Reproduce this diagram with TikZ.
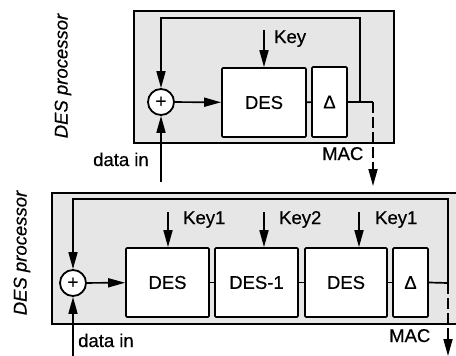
\documentclass[tikz,border=0pt]{standalone}
\usepackage{fontspec}
\setmainfont{Liberation Sans}[FakeBold=0.5]
\usetikzlibrary{arrows.meta,positioning}
\definecolor{stipple}{RGB}{230,230,230}

\begin{document}
\begin{tikzpicture}[x=1pt, y=-1pt,
    every node/.style={font=\fontsize{18.5}{22}\selectfont},
    frame/.style={draw, line width=2pt, fill=stipple},
    block/.style={rectangle, draw, line width=1.7pt, fill=white, rounded corners=1pt, inner sep=0pt},
    xorgate/.style={circle, draw, line width=1.8pt, fill=white, minimum size=26pt, inner sep=0pt},
    lbl/.style={anchor=base west, inner sep=0pt},
    side/.style={rotate=90, font=\fontsize{18.5}{22}\selectfont\itshape},
    arrow/.style={-{Triangle[length=17pt,width=9pt]}, line width=1.7pt},
    wire/.style={line width=1.7pt},
    macline/.style={-{Triangle[length=17pt,width=9pt]}, line width=1.7pt, dash pattern=on 11pt off 4pt}
]
\clip (0,0) rectangle (456,356);

% upper processor: single DES
\draw[frame] (134,11) rectangle (394,143);
\node[side] (proca) at (63,76) {DES processor};

\node[xorgate] (xora) at (161,102) {+};
\node[block, minimum width=84pt, minimum height=69pt] (desa) at (264,102.5) {DES};
\node[block, minimum width=35pt, minimum height=70pt] (deltaa) at (329.5,102) {Δ};

\coordinate (keyatop) at (264,30);
\coordinate (tapa) at (360,102);
\coordinate (loopa) at (161,18);
\coordinate (outa) at (373,102);
\coordinate (enda) at (373,186);
\coordinate (ina) at (161,182);

\draw[arrow] (xora) -- (desa);
\draw[wire] (desa) -- (deltaa);
\draw[arrow] (keyatop) -- (desa.north);
\draw[wire] (deltaa.east) -- (outa);
\draw[arrow] (tapa) |- (loopa) -- (xora.north);
\draw[macline] (outa) -- (enda);
\draw[arrow] (ina) -- (xora.south);

\node[lbl] (keya) at (274,43) {Key};
\node[lbl] (dataa) at (93,166) {data in};
\node[lbl] (maca) at (322,160) {MAC};

% lower processor: triple DES
\draw[frame] (52,193) rectangle (475,324);
\node[side] (procb) at (22,253) {DES processor};

\node[xorgate] (xorb) at (73,283) {+};
\node[block, minimum width=83pt, minimum height=69pt] (desb) at (167.5,282.5) {DES};
\node[block, minimum width=83pt, minimum height=69pt] (desinv) at (256.5,282.5) {DES-1};
\node[block, minimum width=82pt, minimum height=69pt] (desc) at (346,282.5) {DES};
\node[block, minimum width=35pt, minimum height=69pt] (deltab) at (410.5,282.5) {Δ};

\coordinate (keybtop) at (168,212);
\coordinate (keyinvtop) at (264,212);
\coordinate (keyctop) at (359,212);
\coordinate (outb) at (448,283);
\coordinate (loopb) at (73,199);
\coordinate (endb) at (448,356);
\coordinate (inb) at (73,360);

\draw[arrow] (xorb) -- (desb);
\draw[wire] (desb) -- (desinv);
\draw[wire] (desinv) -- (desc);
\draw[wire] (desc) -- (deltab);
\draw[arrow] (keybtop) -- (desb.north -| keybtop);
\draw[arrow] (keyinvtop) -- (desinv.north -| keyinvtop);
\draw[arrow] (keyctop) -- (desc.north -| keyctop);
\draw[wire] (deltab.east) -- (outb);
\draw[arrow] (outb) |- (loopb) -- (xorb.north);
\draw[macline] (outb) -- (endb);
\draw[arrow] (inb) -- (xorb.south);

\node[lbl] (keyb) at (183,224) {Key1};
\node[lbl] (keyinv) at (279,224) {Key2};
\node[lbl] (keyc) at (375,224) {Key1};
\node[lbl] (datab) at (78,347) {data in};
\node[lbl] (macb) at (389,342) {MAC};

\end{tikzpicture}
\end{document}
